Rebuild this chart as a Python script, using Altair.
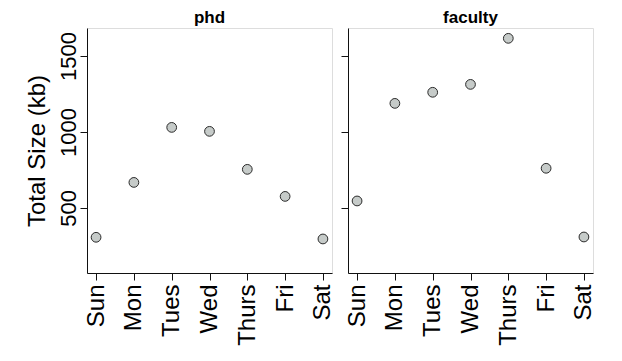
import altair as alt
import pandas as pd

days = ["Sun", "Mon", "Tues", "Wed", "Thurs", "Fri", "Sat"]
phd = [307, 668, 1030, 1004, 754, 576, 296]
faculty = [546, 1188, 1261, 1313, 1616, 761, 309]
y_ticks = [500, 1000, 1500]
y_domain = [72, 1684]

FONT = "Liberation Sans"


def panel(values, title, show_y):
    df = pd.DataFrame({"day": days, "size": values})
    yaxis = alt.Axis(
        values=y_ticks,
        format="d",
        grid=False,
        tickSize=7,
        tickColor="#111",
        domainColor="#111",
        labels=show_y,
        labelAngle=-90,
        labelAlign="center",
        labelBaseline="alphabetic",
        labelFontSize=22,
        labelPadding=5,
        labelColor="#000",
        labelFont=FONT,
        title="Total Size (kb)" if show_y else None,
        titleFontSize=24,
        titleFont=FONT,
        titleFontWeight="normal",
        titleColor="#000",
        titlePadding=8,
    )
    xaxis = alt.Axis(
        title=None,
        grid=False,
        tickSize=7,
        tickColor="#111",
        domainColor="#111",
        labelAngle=-90,
        labelFontSize=24,
        labelFont=FONT,
        labelColor="#000",
        labelPadding=4,
    )
    return (
        alt.Chart(df)
        .mark_point(shape="circle", filled=True, size=95, fill="#c6cbc9",
                    stroke="#2a2a2a", strokeWidth=1, opacity=1)
        .encode(
            x=alt.X("day:N", sort=days, axis=xaxis,
                    scale=alt.Scale(type="point", padding=0.24)),
            y=alt.Y("size:Q", axis=yaxis,
                    scale=alt.Scale(domain=y_domain, nice=False, zero=False)),
        )
        .properties(
            width=245,
            height=245,
            title=alt.TitleParams(title, fontSize=17, font=FONT,
                                  fontWeight="bold", color="#000", offset=1),
        )
    )


chart = (
    alt.hconcat(panel(phd, "phd", True), panel(faculty, "faculty", False),
                spacing=16, bounds="flush")
    .properties(padding={"left": 16, "top": 0, "right": 5, "bottom": 0})
    .configure_view(stroke="#555", strokeWidth=1)
    .configure(background="white")
)

chart.save("out.html", embed_options={"renderer": "svg", "actions": False})
